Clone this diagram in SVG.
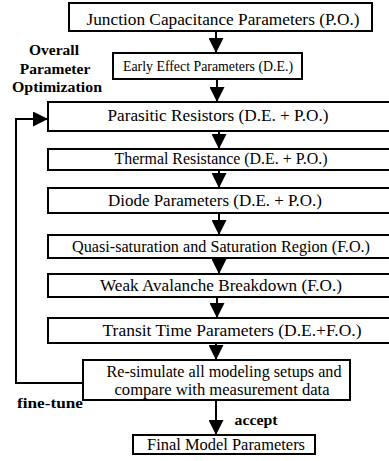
<svg xmlns="http://www.w3.org/2000/svg" width="389" height="461" viewBox="0 0 389 461">
<defs>
<style>
.box{fill:#fff;stroke:#000;stroke-width:2}
.t{font-family:"Liberation Serif","Times New Roman",serif;font-size:16.5px;fill:#000;text-anchor:middle}
.b{font-family:"Liberation Serif","Times New Roman",serif;font-size:15.5px;font-weight:bold;fill:#000;text-anchor:middle}
.ln{fill:none;stroke:#000;stroke-width:2}
</style>
<marker id="ah" viewBox="0 0 10 10" refX="10" refY="5" markerWidth="8" markerHeight="7.5" markerUnits="strokeWidth" orient="auto">
<path d="M0,0 L10,5 L0,10 z" fill="#000"/>
</marker>
</defs>
<rect width="389" height="461" fill="#fff"/>
<g id="connectors">
<line class="ln" x1="216" y1="31" x2="216" y2="53" marker-end="url(#ah)"/>
<line class="ln" x1="217" y1="79" x2="217" y2="102" marker-end="url(#ah)"/>
<line class="ln" x1="219" y1="131" x2="219" y2="149" marker-end="url(#ah)"/>
<line class="ln" x1="219" y1="170" x2="219" y2="188" marker-end="url(#ah)"/>
<line class="ln" x1="219" y1="213" x2="219" y2="235" marker-end="url(#ah)"/>
<line class="ln" x1="219" y1="258" x2="219" y2="274" marker-end="url(#ah)"/>
<line class="ln" x1="217" y1="297" x2="217" y2="318" marker-end="url(#ah)"/>
<line class="ln" x1="216" y1="343" x2="216" y2="360" marker-end="url(#ah)"/>
<line class="ln" x1="216" y1="400" x2="216" y2="435" marker-end="url(#ah)"/>
<polyline class="ln" points="83,383 16,383 16,119 48,119" marker-end="url(#ah)"/>
<text class="b" x="50" y="408" textLength="66" lengthAdjust="spacingAndGlyphs">fine-tune</text>
<text class="b" x="256" y="425" textLength="43" lengthAdjust="spacingAndGlyphs">accept</text>
</g>
<g id="label-overall">
<text class="b" x="54" y="55">Overall</text>
<text class="b" x="55" y="74">Parameter</text>
<text class="b" x="57" y="92" textLength="90" lengthAdjust="spacingAndGlyphs">Optimization</text>
</g>
<g id="n1"><rect class="box" x="69" y="3" width="303" height="28"/><text class="t" x="223" y="25" textLength="273" lengthAdjust="spacingAndGlyphs">Junction Capacitance Parameters (P.O.)</text></g>
<g id="n2"><rect class="box" x="113" y="53" width="189" height="26"/><text class="t" x="208" y="71" style="font-size:15px" textLength="170" lengthAdjust="spacingAndGlyphs">Early Effect Parameters (D.E.)</text></g>
<g id="n3"><rect class="box" x="48" y="102" width="345" height="29"/><text class="t" x="218" y="121" textLength="221" lengthAdjust="spacingAndGlyphs">Parasitic Resistors (D.E. + P.O.)</text></g>
<g id="n4"><rect class="box" x="48" y="149" width="345" height="21"/><text class="t" x="221" y="164" textLength="213" lengthAdjust="spacingAndGlyphs">Thermal Resistance (D.E. + P.O.)</text></g>
<g id="n5"><rect class="box" x="48" y="188" width="345" height="25"/><text class="t" x="215" y="206" textLength="214" lengthAdjust="spacingAndGlyphs">Diode Parameters (D.E. + P.O.)</text></g>
<g id="n6"><rect class="box" x="48" y="235" width="345" height="23"/><text class="t" x="221" y="252" textLength="298" lengthAdjust="spacingAndGlyphs">Quasi-saturation and Saturation Region (F.O.)</text></g>
<g id="n7"><rect class="box" x="48" y="274" width="345" height="23"/><text class="t" x="221" y="291" textLength="242" lengthAdjust="spacingAndGlyphs">Weak Avalanche Breakdown (F.O.)</text></g>
<g id="n8"><rect class="box" x="48" y="318" width="345" height="25"/><text class="t" x="232" y="336" textLength="259" lengthAdjust="spacingAndGlyphs">Transit Time Parameters (D.E.+F.O.)</text></g>
<g id="n9"><rect class="box" x="83" y="360" width="267" height="40"/><text class="t" x="224" y="377" textLength="235" lengthAdjust="spacingAndGlyphs">Re-simulate all modeling setups and</text><text class="t" x="222" y="395" textLength="215" lengthAdjust="spacingAndGlyphs">compare with measurement data</text></g>
<g id="n10"><rect class="box" x="133" y="435" width="182" height="19"/><text class="t" x="226" y="450" textLength="158" lengthAdjust="spacingAndGlyphs">Final Model Parameters</text></g>
</svg>
